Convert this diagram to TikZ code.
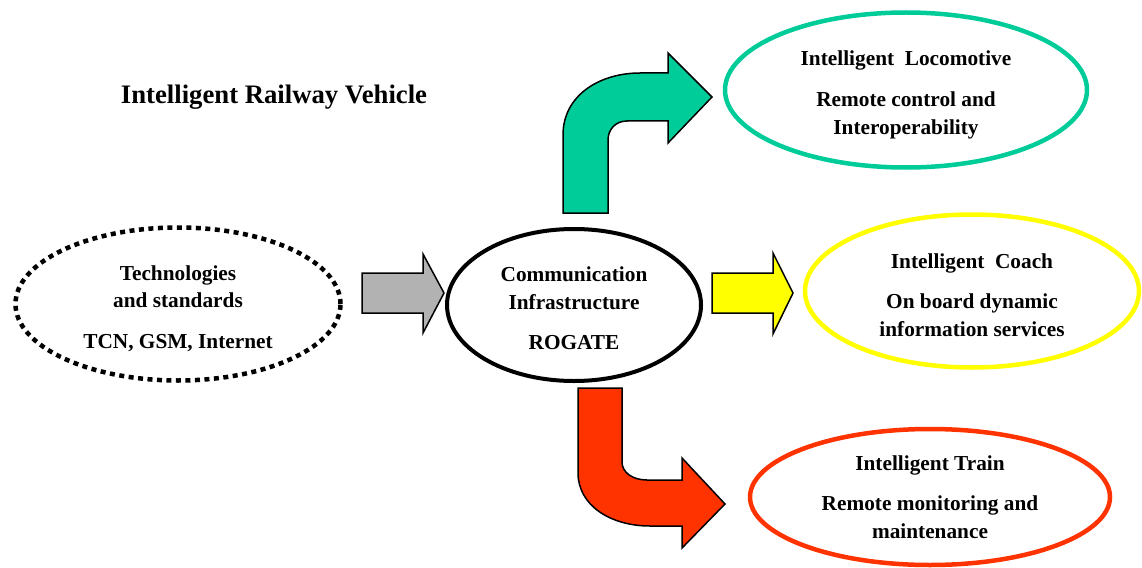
\documentclass[tikz,border=0pt]{standalone}
\usepackage{fontspec}
\setmainfont{Liberation Serif}
\usepackage{tikz}
\usetikzlibrary{
    positioning,       % Relative positioning
    shapes.geometric   % Ellipses
}
\definecolor{LocoGreen}{RGB}{0,204,153}
\definecolor{CoachYellow}{RGB}{255,255,0}
\definecolor{TrainRed}{RGB}{255,51,0}
\definecolor{FlowGray}{RGB}{178,178,178}
\tikzset{body text/.style={
    font=\bfseries\fontsize{21.3}{27.5}\selectfont,
    align=center
}}
\tikzset{area ellipse/.style={
    ellipse,
    draw,
    body text,
    inner sep=0pt,
    line width=4.5pt
}}
\tikzset{hub ellipse/.style={
    area ellipse,
    line width=4pt
}}
\tikzset{source ellipse/.style={
    area ellipse,
    line width=4.5pt,
    dash pattern=on 5pt off 4.5pt
}}
\tikzset{block arrow/.style={
    draw=black,
    line width=1.5pt,
    line join=miter
}}

\begin{document}
\begin{tikzpicture}[x=1pt,y=-1pt]
    \useasboundingbox (0,0) rectangle (1142,567);

    \node[font=\bfseries\fontsize{26.7}{32}\selectfont] (title) at (274,97) {Intelligent Railway Vehicle};

    \node[source ellipse, minimum width=325pt, minimum height=153pt] (tech) at (178,304)
        {\rule{0pt}{24pt}Technologies\\and standards\\[13pt]TCN, GSM, Internet};
    \node[hub ellipse, minimum width=254pt, minimum height=152pt] (rogate) at (574,305)
        {\rule{0pt}{22pt}Communication\\Infrastructure\\[13pt]ROGATE};
    \node[area ellipse, draw=LocoGreen, minimum width=362pt, minimum height=155pt] (loco) at (906,90)
        {\rule{0pt}{25pt}Intelligent\ \ Locomotive\\[13.5pt]Remote control and\\Interoperability};
    \node[area ellipse, draw=CoachYellow, minimum width=334pt, minimum height=153pt] (coach) at (972,291)
        {\rule{0pt}{23pt}Intelligent\ \ Coach\\[13pt]On board dynamic\\information services};
    \node[area ellipse, draw=TrainRed, minimum width=360pt, minimum height=136pt] (train) at (930,497)
        {Intelligent Train\\[13pt]Remote monitoring and\\maintenance};

    % straight arrows
    \draw[block arrow, fill=FlowGray] (362,273) -- (423,273) -- (423,254) -- (444,293)
        -- (423,333) -- (423,313) -- (362,313) -- cycle;
    \draw[block arrow, fill=CoachYellow] (712,273) -- (773,273) -- (773,253) -- (793,293)
        -- (773,334) -- (773,313) -- (712,313) -- cycle;

    % bent arrows
    \draw[block arrow, fill=LocoGreen] (563,213) -- (563,135)
        .. controls (563,95) and (600,73) .. (640,73) -- (668,73) -- (668,53) -- (712,97)
        -- (668,143) -- (668,121) -- (627,121)
        .. controls (615,121) and (608,130) .. (608,140) -- (608,213) -- cycle;
    \draw[block arrow, fill=TrainRed] (578,388) -- (578,473)
        .. controls (578,505) and (610,526) .. (650,526) -- (682,526) -- (682,548) -- (725,504)
        -- (682,458) -- (682,480) -- (647,480)
        .. controls (632,480) and (622,472) .. (622,462) -- (622,388) -- cycle;
\end{tikzpicture}
\end{document}
